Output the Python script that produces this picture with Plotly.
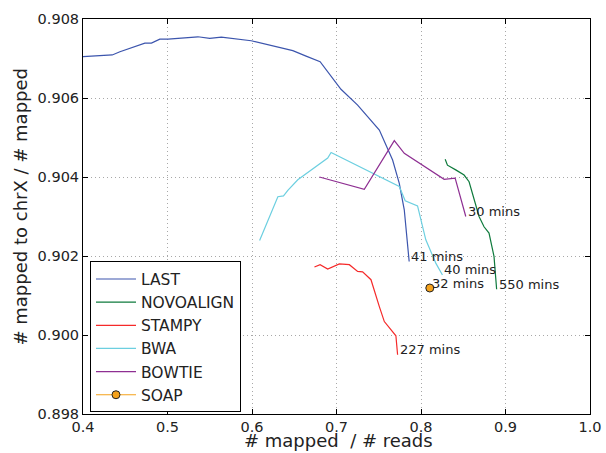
import plotly.graph_objects as go

# ---- data ----
last_x = [0.400, 0.4346, 0.4437, 0.4653, 0.4732, 0.481, 0.4909, 0.5007, 0.536, 0.550, 0.5637,
          0.599, 0.6168, 0.6483, 0.664, 0.6806, 0.7053, 0.725, 0.7507, 0.7664, 0.7743, 0.7802, 0.786]
last_y = [0.90705, 0.90709, 0.90717, 0.90732, 0.90739, 0.90739, 0.90749, 0.90749, 0.90755, 0.90751, 0.90754,
          0.90745, 0.90736, 0.90720, 0.90706, 0.90692, 0.90622, 0.90582, 0.90519, 0.90443, 0.90384, 0.90317, 0.90186]

novo_x = [0.8286, 0.8313, 0.8411, 0.851, 0.8569, 0.8628, 0.8687, 0.8746, 0.8805, 0.8864, 0.8883, 0.8895]
novo_y = [0.90445, 0.90430, 0.90418, 0.90405, 0.90388, 0.90342, 0.90300, 0.90274, 0.90258, 0.90199, 0.90157, 0.90116]

stampy_x = [0.6739, 0.6806, 0.6896, 0.7034, 0.7152, 0.7211, 0.725, 0.7309, 0.7388, 0.7408, 0.7507, 0.7566, 0.7703, 0.7723]
stampy_y = [0.90172, 0.90178, 0.90167, 0.90180, 0.90178, 0.90167, 0.90161, 0.90160, 0.90144, 0.90140, 0.90072, 0.90034, 0.89998, 0.89950]

bwa_x = [0.6090, 0.6306, 0.6373, 0.6424, 0.6542, 0.6896, 0.6936, 0.7152, 0.7507, 0.7743, 0.7813, 0.7920, 0.7959, 0.8057, 0.8175, 0.8254]
bwa_y = [0.90239, 0.90350, 0.90352, 0.90366, 0.90393, 0.90448, 0.90462, 0.90439, 0.90401, 0.90376, 0.90340, 0.90330, 0.90327, 0.90241, 0.90182, 0.90152]

bowtie_x = [0.6798, 0.7329, 0.7684, 0.7802, 0.8274, 0.8404, 0.8530]
bowtie_y = [0.90400, 0.90369, 0.90492, 0.90460, 0.90394, 0.90397, 0.90300]

soap_x = [0.8104]
soap_y = [0.90119]

names = ["LAST", "NOVOALIGN", "STAMPY", "BWA", "BOWTIE", "SOAP"]
run_times = ["41 mins", "550 mins", "227 mins", "40 mins", "30 mins", "32 mins"]

x_ticks = [0.4, 0.5, 0.6, 0.7, 0.8, 0.9, 1.0]
x_ticktext = ["0.4", "0.5", "0.6", "0.7", "0.8", "0.9", "1.0"]
y_ticks = [0.898, 0.900, 0.902, 0.904, 0.906, 0.908]
y_ticktext = ["0.898", "0.900", "0.902", "0.904", "0.906", "0.908"]

x_title = "# mapped\u00a0 / # reads"
y_title = "# mapped to chrX / # mapped"

colors = ["#3c55ad", "#0e7a3c", "#f52a2a", "#6ccfe0", "#8e2f92", "#f5a21b"]

series = [(last_x, last_y), (novo_x, novo_y), (stampy_x, stampy_y),
          (bwa_x, bwa_y), (bowtie_x, bowtie_y), (soap_x, soap_y)]

fig = go.Figure()
for i, ((xs, ys), name, col) in enumerate(zip(series, names, colors)):
    if name == "SOAP":
        fig.add_trace(go.Scatter(x=xs, y=ys, name=name, mode="lines+markers",
                                 line=dict(color=col, width=1.2),
                                 marker=dict(size=8, color=col, line=dict(color="#222222", width=1))))
    else:
        fig.add_trace(go.Scatter(x=xs, y=ys, name=name, mode="lines",
                                 line=dict(color=col, width=1.2)))
    fig.add_annotation(x=xs[-1], y=ys[-1], text=run_times[i], showarrow=False,
                       xanchor="left", yanchor="middle", yshift=5, xshift=0,
                       font=dict(family="DejaVu Sans", size=13, color="#222222"))

# axis labels as annotations (positions match the reference)
fig.add_annotation(xref="paper", yref="paper", x=(20 - 83) / 507, y=(414 - 206.5) / 395,
                   text=y_title, textangle=-90, showarrow=False,
                   xanchor="center", yanchor="middle",
                   font=dict(family="DejaVu Sans", size=18, color="#222222"))
fig.add_annotation(xref="paper", yref="paper", x=(338 - 83) / 507, y=(414 - 441) / 395,
                   text=x_title, showarrow=False, xanchor="center", yanchor="middle",
                   borderpad=0,
                   font=dict(family="DejaVu Sans", size=18, color="#222222"))

axis_common = dict(showline=True, linecolor="black", linewidth=1, mirror="allticks",
                   ticks="inside", ticklen=5, tickcolor="black", automargin=False,
                   showgrid=True, gridcolor="#a8a8a8", griddash="1px,3px", gridwidth=1,
                   zeroline=False, tickfont=dict(family="DejaVu Sans", size=14.5, color="#222222"))

fig.update_layout(
    width=606, height=453,
    margin=dict(l=83, r=16, t=19, b=39),
    paper_bgcolor="white", plot_bgcolor="white",
    font=dict(family="DejaVu Sans", color="#222222"),
    xaxis=dict(range=[0.4, 1.0], tickvals=x_ticks, ticktext=x_ticktext, **axis_common),
    yaxis=dict(range=[0.898, 0.908], tickvals=y_ticks, ticktext=y_ticktext, **axis_common),
    legend=dict(x=0.0138, y=0.004, xanchor="left", yanchor="bottom",
                bordercolor="black", borderwidth=1, bgcolor="white",
                font=dict(family="DejaVu Sans", size=15.5, color="#222222"),
                itemwidth=40, tracegroupgap=0),
    showlegend=True,
)

fig.write_html("out.html")
